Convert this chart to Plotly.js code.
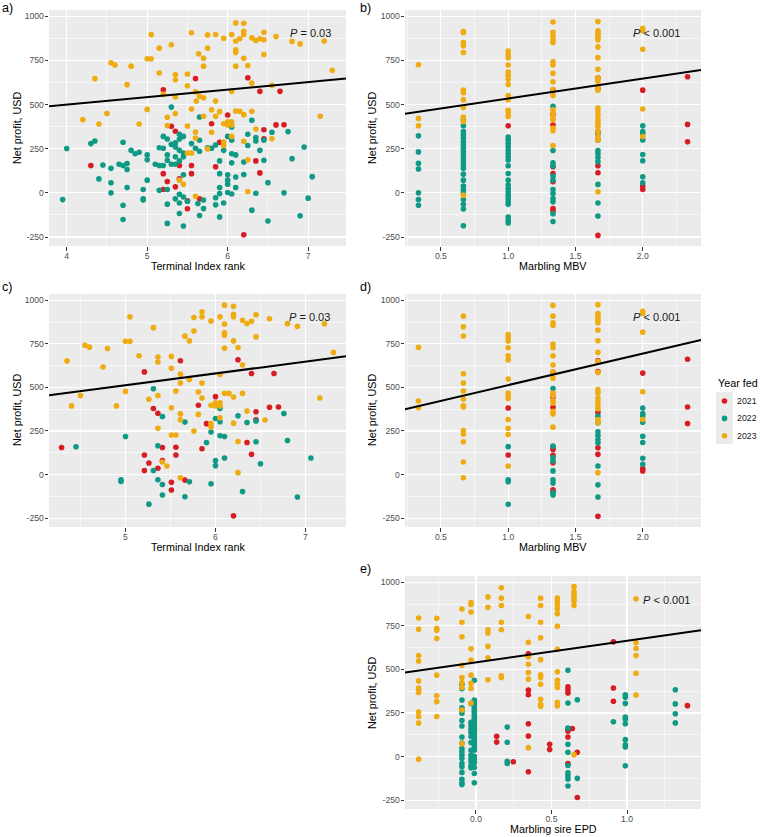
<!DOCTYPE html>
<html>
<head>
<meta charset="utf-8">
<script src="https://cdn.plot.ly/plotly-3.0.1.min.js"></script>
<style>
  html, body { margin: 0; padding: 0; background: #ffffff; }
  #chart { width: 760px; height: 837px; }
</style>
</head>
<body>
<div id="chart"></div>
<script>
// ---------- Year groups ----------
const years = ['2021', '2022', '2023'];
const yearColors = ['#D71C24', '#0E9A84', '#EFAB12'];

// ---------- Panel a: Terminal Index rank vs net profit (all cattle) ----------
const a21x = [5.60,5.20,5.30,5.35,4.30,5.40,5.55,5.20,5.55,5.25,5.40,5.35,5.20,5.50,5.50,6.25,6.40,6.65,6.00,5.80,6.45,6.60,6.70,5.90,6.35,6.40,6.45,6.20,5.65,5.85];
const a21y = [648,584,377,349,155,155,155,109,109,64,79,34,19,-45,-90,652,575,575,441,392,358,385,386,287,181,113,307,-237,-34,148];
const a22x = [4.00,3.95,4.30,4.35,4.70,4.80,4.85,4.90,5.00,5.00,4.45,4.55,4.65,4.70,4.75,4.75,4.40,4.55,4.55,4.75,4.95,4.95,4.95,5.00,4.70,4.70,5.30,5.20,5.25,5.40,5.45,5.40,5.35,5.30,5.35,5.20,5.15,5.25,5.25,5.40,5.45,5.45,5.35,5.55,5.60,5.10,5.15,5.20,5.30,5.35,5.40,5.45,5.15,5.25,5.40,5.35,5.40,5.25,5.45,5.50,5.40,5.25,5.45,5.63,
  5.65,6.30,6.05,6.00,6.05,6.25,6.35,6.35,6.45,6.55,6.75,6.25,6.40,5.65,5.65,5.75,5.80,5.85,5.95,6.05,6.10,6.95,6.80,7.05,5.90,6.05,6.20,6.45,5.90,6.00,6.00,6.00,6.10,6.20,6.10,5.90,5.85,6.00,6.05,5.90,5.95,5.85,5.70,5.70,5.65,5.90,6.30,6.35,6.50,6.70,6.50,7.00,6.90];
const a22y = [251,-38,279,294,287,241,222,230,215,187,158,139,162,155,166,132,79,57,0,30,19,-34,-41,72,-70,-151,486,320,305,332,320,305,283,275,260,253,256,215,185,241,226,204,204,279,253,162,155,155,162,162,181,102,15,19,-8,-34,-57,-64,-23,-49,-117,-173,-188,-60,
  430,411,373,320,298,332,313,294,298,343,347,268,241,298,236,256,253,271,241,222,215,260,194,92,181,170,175,185,109,102,72,49,90,104,30,30,-28,2,-6,-4,-57,-68,-41,-89,-128,-136,-98,-2,58,0,-160,-30,-130];
const a23x = [5.05,5.55,5.30,5.15,5.64,4.55,4.60,4.80,5.00,5.05,4.35,4.75,5.15,5.35,5.35,5.50,5.50,5.20,5.35,5.60,5.61,5.55,4.20,4.40,4.50,4.90,5.00,5.25,5.35,5.25,5.50,5.60,5.60,5.50,5.55,5.40,5.45,5.60,
  6.10,6.20,5.75,5.85,6.05,6.20,6.20,6.15,6.10,6.30,6.35,6.40,6.45,6.45,6.60,5.95,5.70,5.75,5.70,6.10,6.10,6.20,6.25,6.10,6.45,6.80,6.90,7.20,7.30,6.30,6.55,6.05,5.65,5.70,5.85,5.80,5.90,6.10,6.15,6.30,6.20,5.70,5.85,5.95,6.00,6.05,6.00,6.05,5.80,6.35,6.55,7.15,6.20,6.05,5.95,5.95,5.75,6.25,6.25];
const a23y = [897,907,839,820,788,737,724,718,760,760,647,613,679,669,641,673,607,558,543,573,520,475,415,390,449,390,473,428,449,381,379,345,311,226,226,72,49,-19,
  963,961,895,897,897,916,897,873,860,878,863,873,867,910,886,876,763,820,718,810,795,763,722,718,784,858,844,860,694,622,609,575,547,539,520,471,460,464,462,462,443,434,434,392,403,403,385,385,343,362,307,434,292,320,288,268,249,187,8];

// ---------- Panel b: Marbling MBV vs net profit (all cattle) ----------
const b21x = [1,1.333,1.333,1.333,1.333,1.333,1.333,1.333,1.333,1.667,1.667,1.667,1.667,1.667,1.667,2,2,2,2.333,2.333,2.333];
const b21y = [380,582,445,384,148,110,63,-89,-103,652,589,348,154,114,-241,582,38,19,658,388,289];
const b22x = [0.333,0.333,0.333,0.333,0.333,0.333,0.333,
  0.667,0.667,0.667,0.667,0.667,0.667,0.667,0.667,0.667,0.667,0.667,0.667,0.667,0.667,0.667,0.667,0.667,0.667,0.667,0.667,0.667,0.667,0.667,
  1,1,1,1,1,1,1,1,1,1,1,1,1,1,1,1,1,1,1,1,1,
  1.333,1.333,1.333,1.333,1.333,1.333,1.333,1.333,1.333,1.333,1.333,1.333,
  1.667,1.667,1.667,1.667,1.667,1.667,1.667,1.667,1.667,
  2,2,2,2,2,2,2,2];
const b22y = [323,232,167,135,0,-38,-70,
  414,380,348,329,310,291,272,253,234,215,196,177,158,139,106,72,38,19,0,-38,-65,-91,-186,
  316,300,281,262,243,224,205,186,154,110,72,44,25,6,-13,-32,-51,-65,-137,-156,-171,
  490,240,171,152,95,72,19,-4,-32,-51,-118,-162,
  335,300,240,221,201,177,48,-57,-131,
  380,348,335,300,217,182,91,57];
const b23x = [0.333,0.333,0.333,
  0.667,0.667,0.667,0.667,0.667,0.667,0.667,0.667,0.667,0.667,0.667,0.667,
  1,1,1,1,1,1,1,1,1,1,1,1,1,
  1.333,1.333,1.333,1.333,1.333,1.333,1.333,1.333,1.333,1.333,1.333,1.333,1.333,1.333,1.333,1.333,1.333,1.333,
  1.667,1.667,1.667,1.667,1.667,1.667,1.667,1.667,1.667,1.667,1.667,1.667,1.667,1.667,1.667,1.667,1.667,1.667,1.667,1.667,1.667,1.667,1.667,
  2,2,2,2,2];
const b23y = [726,422,380,
  914,909,852,833,795,582,567,528,483,430,405,-13,
  804,785,766,724,684,665,643,614,551,528,468,452,433,
  968,909,886,867,852,743,724,677,629,586,551,471,452,433,414,367,352,268,
  971,918,905,894,880,867,827,766,700,652,633,601,582,481,460,439,414,395,376,348,319,300,6,
  933,918,814,475,319];

// ---------- Panel c: Terminal Index rank vs net profit (subset) ----------
const c21x = [5.61,5.21,5.31,5.36,5.81,4.29,5.41,5.56,5.21,5.56,5.26,5.41,5.36,5.21,5.51,5.51,5.66,6.25,6.40,6.65,6.00,6.45,6.60,6.70,6.45,5.90,6.35,6.40,5.85,6.20];
const c21y = [653,589,379,352,398,155,155,157,112,112,66,81,36,23,-44,-89,-32,659,580,580,447,360,386,388,314,292,184,116,148,-237];
const c22x = [5.31,5.41,5.66,5.00,4.45,5.36,5.31,4.95,4.95,5.36,5.41,5.41,5.71,5.66,5.26,6.05,6.25,6.00,6.05,6.35,6.45,6.76,5.95,6.05,6.10,5.90,6.45,6.80,6.00,6.00,6.10,6.50,7.06,5.95,6.30,6.91];
const c22y = [492,333,301,218,159,165,23,-30,-40,-30,-57,-117,-42,-127,-170,379,337,322,303,299,307,350,244,223,218,184,188,195,80,51,95,62,95,-53,-98,-129];
const c23x = [5.05,5.76,5.31,5.76,5.66,5.71,5.00,5.05,4.55,4.60,4.80,4.35,4.75,5.15,5.36,5.36,5.51,5.51,5.61,5.61,5.71,5.81,5.56,5.00,4.50,4.40,4.90,5.26,5.36,5.51,5.61,5.61,5.81,5.36,5.51,5.56,5.76,5.41,5.46,5.61,
  6.10,6.20,5.85,5.85,5.95,6.05,6.20,6.20,6.10,6.30,6.35,6.40,6.45,6.60,6.80,6.91,7.21,6.10,6.10,6.20,6.25,6.10,6.45,7.31,6.30,6.05,5.85,6.10,6.15,6.30,6.20,5.85,5.95,6.00,6.05,6.00,6.05,6.35,6.55,7.16,6.20,6.05,5.95,5.95,6.25,6.25];
const c23y = [905,901,843,824,794,767,765,765,742,731,723,652,617,682,674,646,678,610,576,525,545,473,479,477,453,394,394,432,453,383,348,314,345,265,227,227,250,72,49,-19,
  972,966,934,905,881,905,920,905,864,885,867,879,917,894,866,850,866,814,799,767,729,725,790,701,629,574,525,466,466,466,445,439,398,411,411,394,394,365,313,439,295,326,292,273,189,11];

// ---------- Panel d: Marbling MBV vs net profit (subset) ----------
const d21x = [1,1,1.333,1.333,1.333,1.333,1.333,1.333,1.333,1.333,1.333,1.667,1.667,1.667,1.667,1.667,1.667,2,2,2,2.333,2.333,2.333];
const d21y = [382,112,586,445,386,154,144,110,68,-87,-97,652,591,357,154,116,-240,582,34,21,662,388,293];
const d22x = [1,1,1,1,
  1.333,1.333,1.333,1.333,1.333,1.333,1.333,1.333,1.333,
  1.667,1.667,1.667,1.667,1.667,1.667,1.667,1.667,1.667,
  2,2,2,2,2,2,2,2];
const d22y = [160,-30,-42,-171,
  494,163,97,78,21,-30,-49,-103,-118,
  335,297,245,224,201,182,49,-59,-129,
  382,350,338,300,220,184,93,59];
const d23x = [0.333,0.333,0.333,
  0.667,0.667,0.667,0.667,0.667,0.667,0.667,0.667,0.667,0.667,0.667,0.667,0.667,0.667,
  1,1,1,1,1,1,1,1,1,1,1,1,1,1,
  1.333,1.333,1.333,1.333,1.333,1.333,1.333,1.333,1.333,1.333,1.333,1.333,1.333,1.333,1.333,1.333,1.333,
  1.667,1.667,1.667,1.667,1.667,1.667,1.667,1.667,1.667,1.667,1.667,1.667,1.667,1.667,1.667,1.667,1.667,1.667,1.667,1.667,
  2,2,2,2,2];
const d23y = [730,422,384,
  909,848,795,578,525,479,433,395,388,253,232,188,72,-19,
  804,785,766,728,681,658,548,468,452,437,316,266,230,49,
  971,909,871,857,747,728,681,629,589,553,468,452,422,411,363,348,272,
  975,924,909,895,882,871,829,768,701,648,586,487,468,439,420,401,378,316,297,11,
  937,924,817,475,316];

// ---------- Panel e: Marbling sire EPD vs net profit ----------
const e21x = [0.137,0.137,0.247,0.347,0.347,0.347,0.347,0.347,0.347,0.347,0.488,0.488,0.609,0.609,0.609,0.609,0.609,0.609,0.609,0.638,0.671,0.671,0.91,0.91,0.91,1.40];
const e21y = [116,83,-30,590,577,381,355,188,118,-87,70,40,400,383,364,159,146,112,-40,161,25,-235,658,393,317,292];
const e22x = [-0.093,-0.093,-0.093,-0.093,-0.093,-0.093,-0.093,-0.093,-0.093,-0.093,-0.093,-0.093,-0.093,-0.093,-0.093,-0.093,-0.093,-0.093,-0.093,-0.093,
  -0.011,-0.011,-0.011,-0.011,-0.011,-0.011,-0.011,-0.011,-0.011,-0.011,-0.011,-0.011,-0.011,-0.011,-0.011,-0.011,-0.011,-0.011,-0.011,-0.011,-0.011,-0.011,-0.011,-0.011,-0.011,-0.011,-0.011,-0.011,
  -0.033,-0.033,-0.033,-0.033,-0.033,-0.033,-0.033,-0.033,-0.033,-0.033,-0.033,-0.033,-0.033,
  0.207,0.207,0.207,0.207,
  0.609,0.609,0.609,0.609,0.609,0.609,0.609,0.609,0.609,0.609,
  0.671,0.671,
  0.91,
  0.989,0.989,0.989,0.989,0.989,0.989,0.989,0.989,0.989,0.989,
  1.32,1.32,1.32,1.32];
const e22y = [415,389,324,279,264,249,207,175,112,78,46,27,8,-11,-40,-59,-91,-131,-150,-161,
  438,324,311,298,286,273,260,245,230,216,203,188,173,159,146,131,116,102,87,70,55,36,2,-17,-36,-63,-97,-150,
  305,197,178,159,140,116,80,36,8,-11,-30,-53,-65,
  169,82,-28,-40,
  495,307,163,70,25,-51,-93,-110,-129,-169,
  326,-125,
  199,
  355,340,305,226,214,188,97,68,55,-53,
  383,302,245,193];
const e23x = [-0.38,-0.38,-0.38,-0.38,-0.38,-0.38,-0.38,-0.38,-0.38,-0.38,-0.38,-0.38,
  -0.26,-0.26,-0.26,-0.26,-0.26,-0.26,-0.26,-0.26,
  -0.093,-0.093,-0.093,-0.093,-0.093,-0.093,-0.093,-0.093,-0.093,
  -0.033,-0.033,-0.033,-0.033,-0.033,-0.033,-0.033,-0.033,-0.033,
  0.079,0.079,0.079,0.079,0.079,0.079,0.079,
  0.168,0.168,0.168,0.168,0.168,0.168,0.168,
  0.347,0.347,0.347,0.347,0.347,0.347,0.347,
  0.428,0.428,0.428,0.428,0.428,0.428,0.428,0.428,0.428,0.428,0.428,
  0.539,0.539,0.539,0.539,0.539,0.539,0.539,0.539,0.539,0.539,0.539,0.539,0.539,
  0.649,0.649,0.649,0.649,0.649,0.649,0.649,0.649,
  1.06,1.06,1.06,1.06,1.06,1.06];
const e23y = [795,730,580,548,434,393,381,368,256,230,192,-15,
  793,736,724,677,467,349,315,230,
  846,770,687,524,453,425,396,267,74,
  884,873,829,618,554,467,421,391,307,
  916,856,728,709,632,567,440,
  969,909,867,770,728,463,453,
  804,656,573,529,482,444,51,
  909,867,770,681,556,469,453,415,328,298,288,
  909,890,871,848,820,747,615,486,438,415,396,311,292,
  975,947,932,918,905,890,867,11,
  905,653,620,580,478,353];

// ---------- Linear fits (intercept, slope) per panel ----------
const fitIntercept = [329, 422, 174, 333, 540];
const fitSlope = [42.6, 112.5, 67.7, 180.3, 124];
const pLabels = ['<i>P</i> = 0.03', '<i>P</i> < 0.001', '<i>P</i> = 0.03', '<i>P</i> < 0.001', '<i>P</i> < 0.001'];
const panelTags = ['a)', 'b)', 'c)', 'd)', 'e)'];
const xTitles = ['Terminal Index rank', 'Marbling MBV', 'Terminal Index rank', 'Marbling MBV', 'Marbling sire EPD'];
const yTitle = 'Net profit, USD';
const yTickVals = [-250, 0, 250, 500, 750, 1000];
const yTickText = ['-250', '0', '250', '500', '750', '1000'];
const legendTitle = 'Year fed';

const panels = [
  { xs: [a21x, a22x, a23x], ys: [a21y, a22y, a23y] },
  { xs: [b21x, b22x, b23x], ys: [b21y, b22y, b23y] },
  { xs: [c21x, c22x, c23x], ys: [c21y, c22y, c23y] },
  { xs: [d21x, d22x, d23x], ys: [d21y, d22y, d23y] },
  { xs: [e21x, e22x, e23x], ys: [e21y, e22y, e23y] }
];

// ---------- Geometry of the five panels (pixels, converted to paper fractions) ----------
const W = 760, H = 837;
const px = v => v / W;
const py = v => 1 - v / H;
const colL = [px(49), px(346)], colR = [px(405), px(701)];
const row1 = [py(246), py(10)];
const row2 = [py(527), py(294)];
const row3 = [py(809), py(576)];
const yRange = [-301, 1036];
const geo = [
  { xd: colL, yd: row1, xr: [3.78, 7.47], tv: [4, 5, 6, 7], fmt: 'd', m0: 3.5, md: 1, pX: 6.75, pY: 905, tag: [0, 8], xt: [197.5, 266], yt: [17, 128] },
  { xd: colR, yd: row1, xr: [0.233, 2.433], tv: [0.5, 1, 1.5, 2], fmt: '.1f', m0: 0.25, md: 0.5, pX: 1.915, pY: 905, tag: [358, 8], xt: [553, 266], yt: [372, 128] },
  { xd: colL, yd: row2, xr: [4.15, 7.45], tv: [5, 6, 7], fmt: 'd', m0: 4.5, md: 1, pX: 6.79, pY: 905, tag: [0, 287], xt: [197.5, 547], yt: [17, 410] },
  { xd: colR, yd: row2, xr: [0.233, 2.433], tv: [0.5, 1, 1.5, 2], fmt: '.1f', m0: 0.25, md: 0.5, pX: 1.91, pY: 902, tag: [358, 287], xt: [553, 547], yt: [372, 410] },
  { xd: colR, yd: row3, xr: [-0.47, 1.49], tv: [0, 0.5, 1], fmt: '.1f', m0: -0.25, md: 0.5, pX: 1.093, pY: 900, tag: [358, 569], xt: [553, 829], yt: [372, 693] }
];

const fontFam = '"Liberation Sans", Arial, "DejaVu Sans", sans-serif';
const traces = [];
const annotations = [];
const shapes = [];
const layout = {
  width: W, height: H,
  margin: { l: 0, r: 0, t: 0, b: 0 },
  paper_bgcolor: '#ffffff',
  plot_bgcolor: '#EBEBEB',
  font: { family: fontFam, color: '#000000' },
  showlegend: false,
  annotations: annotations,
  shapes: shapes
};

panels.forEach((p, i) => {
  const g = geo[i];
  const sfx = i === 0 ? '' : String(i + 1);
  const xa = 'x' + sfx, ya = 'y' + sfx;
  for (let k = 0; k < 3; k++) {
    traces.push({
      type: 'scatter', mode: 'markers',
      x: p.xs[k], y: p.ys[k], xaxis: xa, yaxis: ya,
      name: years[k],
      marker: { color: yearColors[k], size: 5.6, line: { width: 0 } },
      hoverinfo: 'skip'
    });
  }
  // fitted regression line across the panel's x-range
  traces.push({
    type: 'scatter', mode: 'lines', xaxis: xa, yaxis: ya,
    x: g.xr, y: g.xr.map(v => fitIntercept[i] + fitSlope[i] * v),
    line: { color: '#000000', width: 2 }, hoverinfo: 'skip'
  });

  const axisCommon = {
    showline: false, zeroline: false,
    gridcolor: '#ffffff', gridwidth: 1.1,
    ticks: 'outside', ticklen: 3.5, tickwidth: 1, tickcolor: '#333333',
    tickfont: { size: 8.6, color: '#4D4D4D', family: fontFam },
    fixedrange: true
  };
  layout['xaxis' + sfx] = Object.assign({}, axisCommon, {
    domain: g.xd, range: g.xr, anchor: ya,
    tickmode: 'array', tickvals: g.tv, tickformat: g.fmt, ticklabelstandoff: -2,
    minor: { tickmode: 'linear', tick0: g.m0, dtick: g.md, showgrid: true, gridcolor: '#ffffff', gridwidth: 0.55, ticks: '' }
  });
  layout['yaxis' + sfx] = Object.assign({}, axisCommon, {
    domain: g.yd, range: yRange, anchor: xa,
    tickmode: 'array', tickvals: yTickVals, ticktext: yTickText, ticklabelstandoff: -1,
    minor: { tickmode: 'linear', tick0: -125, dtick: 250, showgrid: true, gridcolor: '#ffffff', gridwidth: 0.55, ticks: '' }
  });

  // axis titles
  annotations.push({
    xref: 'paper', yref: 'paper', x: px(g.xt[0]), y: py(g.xt[1]),
    xanchor: 'center', yanchor: 'middle', text: xTitles[i], showarrow: false,
    font: { size: 10.75, color: '#000000' }
  });
  annotations.push({
    xref: 'paper', yref: 'paper', x: px(g.yt[0]), y: py(g.yt[1]),
    xanchor: 'center', yanchor: 'middle', text: yTitle, textangle: -90, showarrow: false,
    font: { size: 10.75, color: '#000000' }
  });
  // P-value label
  annotations.push({
    xref: xa, yref: ya, x: g.pX, y: g.pY, xanchor: 'left', yanchor: 'middle',
    text: pLabels[i], showarrow: false, font: { size: 11, color: '#1a1a1a' }
  });
  // panel tag
  annotations.push({
    xref: 'paper', yref: 'paper', x: px(g.tag[0]), y: py(g.tag[1]),
    xanchor: 'left', yanchor: 'middle', text: panelTags[i], showarrow: false,
    font: { size: 12.5, color: '#000000' }
  });
});

// ---------- Legend: "Year fed" with grey key column ----------
annotations.push({
  xref: 'paper', yref: 'paper', x: px(716), y: py(383), xanchor: 'left', yanchor: 'middle',
  text: legendTitle, showarrow: false, font: { size: 10.75, color: '#000000' }
});
shapes.push({
  type: 'rect', xref: 'paper', yref: 'paper', layer: 'below',
  x0: px(716), x1: px(733), y0: py(444), y1: py(392),
  fillcolor: '#EBEBEB', line: { width: 0 }
});
years.forEach((yr, k) => {
  const cy = 401 + k * 17.4;
  shapes.push({
    type: 'circle', xref: 'paper', yref: 'paper',
    x0: px(721.7), x1: px(727.3), y0: py(cy + 2.8), y1: py(cy - 2.8),
    fillcolor: yearColors[k], line: { width: 0 }
  });
  annotations.push({
    xref: 'paper', yref: 'paper', x: px(735), y: py(cy), xanchor: 'left', yanchor: 'middle',
    text: yr, showarrow: false, font: { size: 8.8, color: '#1a1a1a' }
  });
});

Plotly.newPlot('chart', traces, layout, { staticPlot: true, displayModeBar: false });
</script>
</body>
</html>
